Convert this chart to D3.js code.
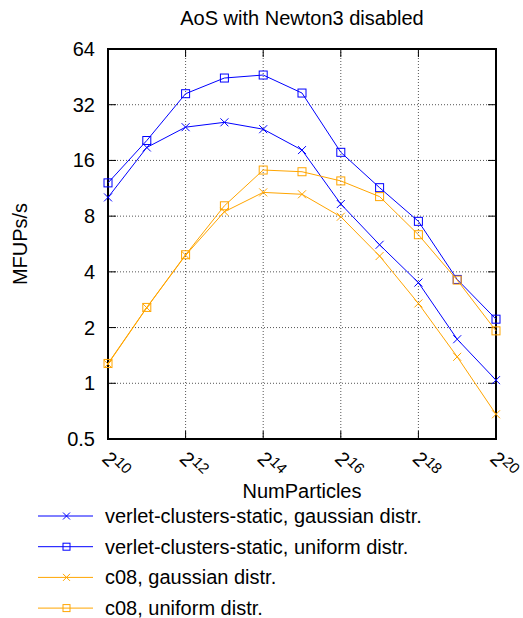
<!DOCTYPE html>
<html>
<head>
<meta charset="utf-8">
<script src="https://cdn.jsdelivr.net/npm/d3@7"></script>
<style>
  body { margin: 0; background: #fff; }
  svg { display: block; font-family: "Liberation Sans", Arial, sans-serif; }
</style>
</head>
<body>
<div id="chart"></div>
<script>
// exponents of 2 for NumParticles
const exponents = [10, 11, 12, 13, 14, 15, 16, 17, 18, 19, 20];

// MFUPs/s
const verletGaussian = [10.1, 18.8, 24.2, 25.7, 23.6, 18.2, 9.3, 5.6, 3.5, 1.73, 1.04];
const verletUniform  = [12.1, 20.5, 36.7, 44.6, 46.3, 37.0, 17.7, 11.4, 7.5, 3.64, 2.22];
const c08Gaussian    = [1.27, 2.56, 4.92, 8.45, 10.75, 10.5, 7.94, 4.87, 2.70, 1.39, 0.68];
const c08Uniform     = [1.28, 2.57, 4.95, 9.1, 14.2, 13.9, 12.4, 10.2, 6.35, 3.61, 1.92];

const yTicks = [0.5, 1, 2, 4, 8, 16, 32, 64];
const xTickExps = [10, 12, 14, 16, 18, 20];

const seriesNames = [
    "verlet-clusters-static, gaussian distr.",
    "verlet-clusters-static, uniform distr.",
    "c08, gaussian distr.",
    "c08, uniform distr."
];

//make margins
const margin = {top: 49, right: 27, bottom: 179, left: 108};
const W = 523, H = 618;
const width = W - margin.left - margin.right;
const height = H - margin.top - margin.bottom;

const blue = "#0000ff";
const orange = "#ffa500";

const series = [
    {name: seriesNames[0], values: verletGaussian, color: blue, marker: "cross"},
    {name: seriesNames[1], values: verletUniform, color: blue, marker: "square"},
    {name: seriesNames[2], values: c08Gaussian, color: orange, marker: "cross"},
    {name: seriesNames[3], values: c08Uniform, color: orange, marker: "square"}
];

const svg = d3.select("#chart").append("svg")
    .attr("width", W)
    .attr("height", H);

const g = svg.append("g")
    .attr("transform", `translate(${margin.left},${margin.top})`);

const x = d3.scaleLog().base(2).domain([2 ** 10, 2 ** 20]).range([0, width]);
const y = d3.scaleLog().base(2).domain([0.5, 64]).range([height, 0]);

//grid lines (dotted)
g.append("g").selectAll("line")
    .data(xTickExps.slice(1, -1))
    .join("line")
    .attr("x1", d => x(2 ** d)).attr("x2", d => x(2 ** d))
    .attr("y1", 0).attr("y2", height)
    .attr("stroke", "#555").attr("stroke-width", 1)
    .attr("stroke-dasharray", "1,2");

g.append("g").selectAll("line")
    .data(yTicks.slice(1, -1))
    .join("line")
    .attr("x1", 0).attr("x2", width)
    .attr("y1", d => y(d)).attr("y2", d => y(d))
    .attr("stroke", "#555").attr("stroke-width", 1)
    .attr("stroke-dasharray", "1,2");

//tick marks pointing inward, mirrored on all sides
const tl = 8;
const ticks = g.append("g").attr("stroke", "#000").attr("stroke-width", 1);
xTickExps.forEach(e => {
    const px = x(2 ** e);
    ticks.append("line").attr("x1", px).attr("x2", px).attr("y1", height).attr("y2", height - tl);
    ticks.append("line").attr("x1", px).attr("x2", px).attr("y1", 0).attr("y2", tl);
});
yTicks.forEach(v => {
    const py = y(v);
    ticks.append("line").attr("x1", 0).attr("x2", tl).attr("y1", py).attr("y2", py);
    ticks.append("line").attr("x1", width).attr("x2", width - tl).attr("y1", py).attr("y2", py);
});

//frame
g.append("rect")
    .attr("width", width).attr("height", height)
    .attr("fill", "none").attr("stroke", "#000").attr("stroke-width", 2);

//y tick labels
g.append("g").selectAll("text")
    .data(yTicks)
    .join("text")
    .attr("x", -13)
    .attr("y", d => y(d) + 7)
    .attr("text-anchor", "end")
    .style("font-size", "20px")
    .text(d => d);

//x tick labels, 2^n rotated
const xl = g.append("g").selectAll("text")
    .data(xTickExps)
    .join("text")
    .attr("transform", d => `translate(${x(2 ** d) - 7},${height + 21}) rotate(45)`)
    .style("font-size", "20px");
xl.append("tspan").text("2");
xl.append("tspan").attr("dy", -7).style("font-size", "15px").text(d => d);

//title and axis labels
svg.append("text")
    .attr("x", margin.left + width / 2).attr("y", 25)
    .attr("text-anchor", "middle").style("font-size", "20px")
    .text("AoS with Newton3 disabled");

svg.append("text")
    .attr("x", margin.left + width / 2).attr("y", 498)
    .attr("text-anchor", "middle").style("font-size", "20px")
    .text("NumParticles");

svg.append("text")
    .attr("transform", `translate(27,${margin.top + height / 2}) rotate(-90)`)
    .attr("text-anchor", "middle").style("font-size", "20px")
    .text("MFUPs/s");

//markers
function drawMarker(sel, type, color) {
    if (type === "cross") {
        sel.append("path").attr("d", "M-4,-4L4,4M-4,4L4,-4")
            .attr("stroke", color).attr("stroke-width", 1).attr("fill", "none");
    } else {
        sel.append("rect").attr("x", -4).attr("y", -4).attr("width", 8).attr("height", 8)
            .attr("stroke", color).attr("stroke-width", 1).attr("fill", "none");
    }
}

const line = d3.line()
    .x((d, i) => x(2 ** exponents[i]))
    .y(d => y(d));

series.forEach(s => {
    g.append("path")
        .datum(s.values)
        .attr("fill", "none")
        .attr("stroke", s.color)
        .attr("stroke-width", 1)
        .attr("d", line);

    g.append("g").selectAll("g")
        .data(s.values)
        .join("g")
        .attr("transform", (d, i) => `translate(${x(2 ** exponents[i])},${y(d)})`)
        .each(function () { drawMarker(d3.select(this), s.marker, s.color); });
});

//legend
const legend = svg.append("g").attr("transform", "translate(38,516)");
series.forEach((s, i) => {
    const row = legend.append("g").attr("transform", `translate(0,${i * 30.7})`);
    row.append("line").attr("x1", 0).attr("x2", 55).attr("y1", 0).attr("y2", 0)
        .attr("stroke", s.color).attr("stroke-width", 1);
    const m = row.append("g").attr("transform", "translate(28.5,0)");
    if (s.marker === "cross") {
        m.append("path").attr("d", "M-3.5,-3.5L3.5,3.5M-3.5,3.5L3.5,-3.5")
            .attr("stroke", s.color).attr("fill", "none");
    } else {
        m.append("rect").attr("x", -3.5).attr("y", -3.5).attr("width", 7).attr("height", 7)
            .attr("stroke", s.color).attr("fill", "none");
    }
    row.append("text").attr("x", 67).attr("y", 7)
        .style("font-size", "20px")
        .text(s.name);
});
</script>
</body>
</html>
